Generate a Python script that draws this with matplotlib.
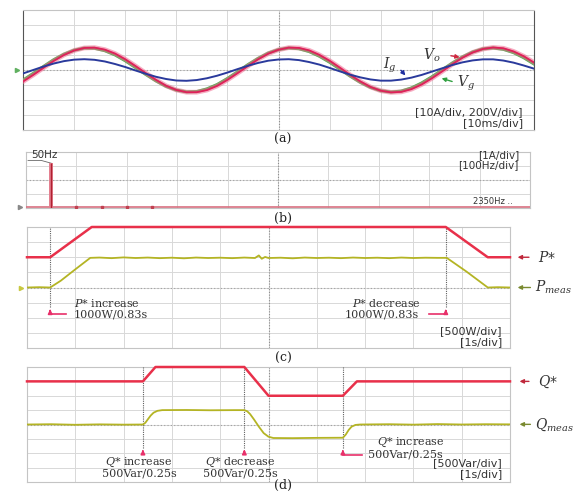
import numpy as np
import matplotlib
matplotlib.use("Agg")
import matplotlib.pyplot as plt

plt.rcParams["mathtext.fontset"] = "dejavuserif"

# ---- (a) grid voltage / output voltage / grid current, sampled every 0.2 div
t_wave = np.linspace(0, 10, 51)
vo = [-0.77, -0.33, 0.14, 0.60, 1.00, 1.30, 1.47, 1.49, 1.36, 1.10,
      0.72, 0.27, -0.20, -0.65, -1.05, -1.33, -1.48, -1.48, -1.34, -1.06,
      -0.66, -0.21, 0.26, 0.71, 1.09, 1.35, 1.49, 1.47, 1.31, 1.01,
      0.62, 0.16, -0.32, -0.76, -1.13, -1.38, -1.49, -1.46, -1.28, -0.97,
      -0.56, -0.10, 0.38, 0.82, 1.17, 1.40, 1.50, 1.45, 1.24, 0.92, 0.50]
vg = [-0.68, -0.23, 0.23, 0.68, 1.05, 1.32, 1.46, 1.45, 1.29, 1.01,
      0.62, 0.17, -0.29, -0.72, -1.09, -1.34, -1.46, -1.44, -1.26, -0.97,
      -0.57, -0.12, 0.35, 0.77, 1.13, 1.36, 1.47, 1.42, 1.23, 0.92,
      0.52, 0.06, -0.40, -0.82, -1.16, -1.38, -1.47, -1.41, -1.20, -0.87,
      -0.46, 0.00, 0.46, 0.87, 1.20, 1.41, 1.47, 1.38, 1.16, 0.82, 0.40]
ig = [-0.23, 0.00, 0.23, 0.43, 0.59, 0.69, 0.72, 0.68, 0.57, 0.40,
      0.20, -0.03, -0.25, -0.45, -0.60, -0.70, -0.72, -0.67, -0.55, -0.38,
      -0.17, 0.06, 0.28, 0.47, 0.62, 0.70, 0.72, 0.66, 0.53, 0.36,
      0.14, -0.09, -0.31, -0.49, -0.63, -0.71, -0.71, -0.64, -0.51, -0.33,
      -0.11, 0.11, 0.33, 0.51, 0.64, 0.71, 0.71, 0.63, 0.49, 0.30, 0.09]

# ---- (b) current spectrum (A), 100 Hz/div
harm_hz = [50, 100, 150, 200, 250]
harm_amp = [3.2, 0.08, 0.08, 0.08, 0.06]
spec_floor = 0.04

# ---- (c) active power step, div units (500 W/div, 1 s/div)
p_ref_t = [0, 0.48, 1.34, 8.67, 9.54, 10]
p_ref = [6, 6, 8, 8, 6, 6]
p_meas_t = [0, 0.25, 0.48, 0.7, 1.0, 1.31, 1.5, 1.75, 2.0, 2.25, 2.5, 2.75,
            3.0, 3.25, 3.5, 3.75, 4.0, 4.25, 4.5, 4.72, 4.8, 4.86, 4.93,
            5.0, 5.25, 5.5, 5.75, 6.0, 6.25, 6.5, 6.75, 7.0, 7.25, 7.5,
            7.75, 8.0, 8.25, 8.5, 8.69, 9.1, 9.54, 9.75, 10]
p_meas = [4.0, 4.02, 4.0, 4.45, 5.2, 5.96, 5.98, 5.94, 5.99, 5.95, 5.98, 5.94,
          5.97, 5.93, 5.98, 5.95, 5.97, 5.94, 5.98, 5.95, 6.12, 5.90, 6.02,
          5.95, 5.97, 5.93, 5.98, 5.95, 5.97, 5.94, 5.98, 5.95, 5.97, 5.94,
          5.98, 5.95, 5.97, 5.96, 5.96, 5.05, 4.0, 4.02, 4.0]
p_events = [p_ref_t[1], p_ref_t[3]]

# ---- (d) reactive power steps, div units (500 Var/div, 1 s/div)
q_ref_t = [0, 2.40, 2.66, 4.50, 5.00, 6.54, 6.83, 10]
q_ref = [7, 7, 8, 8, 6, 6, 7, 7]
q_meas_t = [0, 0.5, 1.0, 1.5, 2.0, 2.40, 2.45, 2.50, 2.56, 2.62, 2.70, 2.80,
            3.3, 3.8, 4.3, 4.50, 4.56, 4.62, 4.70, 4.80, 4.90, 5.00, 5.10,
            5.5, 6.0, 6.54, 6.60, 6.66, 6.72, 6.80, 6.90, 7.5, 8.0, 8.5,
            9.0, 9.5, 10]
q_meas = [4.0, 4.02, 3.98, 4.01, 3.99, 4.0, 4.12, 4.35, 4.62, 4.82, 4.95, 5.0,
          5.01, 4.99, 5.0, 5.0, 4.92, 4.72, 4.35, 3.85, 3.40, 3.15, 3.06,
          3.05, 3.07, 3.08, 3.30, 3.62, 3.85, 3.97, 4.0, 4.02, 3.99, 4.03,
          4.0, 4.02, 4.01]
q_events = [q_ref_t[1], q_ref_t[3], q_ref_t[5]]

RED = "#e8304a"
YEL = "#b4b424"
PINK = "#e8306a"
TXT = "#333333"
SERIF = "DejaVu Serif"
FS = 8

W, H = 573, 491
fig = plt.figure(figsize=(W / 100, H / 100), dpi=100)


def box(x0, y0, x1, y1):
    return [x0 / W, 1 - y1 / H, (x1 - x0) / W, (y1 - y0) / H]


def scope(ax, ylo, yhi):
    ax.set_xlim(0, 10)
    ax.set_ylim(ylo, yhi)
    ax.set_xticks(np.arange(0, 11))
    ax.set_yticks(np.arange(ylo, yhi + 1))
    ax.grid(True, color="#d8d8d8", lw=0.7)
    ax.tick_params(length=0, labelbottom=False, labelleft=False)
    for s in ax.spines.values():
        s.set_color("#c4c4c4")
        s.set_linewidth(0.8)
    ax.axvline(5, color="#8c8c8c", lw=0.8, ls=(0, (1, 1.5)))
    ax.axhline((ylo + yhi) / 2, color="#a0a0a0", lw=0.8, ls=(0, (1, 2)))


def arrow(ax, xy, xytext, color, lw=1.0):
    ax.annotate("", xy=xy, xytext=xytext, annotation_clip=False,
                arrowprops=dict(arrowstyle="-|>", color=color, lw=lw, mutation_scale=6))


ax_a = fig.add_axes(box(23, 10, 534, 130))
ax_b = fig.add_axes(box(26, 152, 530, 208))
ax_c = fig.add_axes(box(27, 227, 510, 348))
ax_d = fig.add_axes(box(27, 367, 510, 482))

# (a)
scope(ax_a, -4, 4)
for side in ("left", "right"):
    ax_a.spines[side].set_color("#555555")
    ax_a.spines[side].set_linestyle((0, (1, 1)))
ax_a.plot(t_wave, vg, color="#3cb84a", lw=2.2, zorder=3)
ax_a.plot(t_wave, vo, color="#f06a90", lw=3.4, alpha=0.55, zorder=4)
ax_a.plot(t_wave, vo, color="#e0205a", lw=1.3, zorder=5)
ax_a.plot(t_wave, ig, color="#2a3a9c", lw=1.4, zorder=6)
ax_a.text(7.83, 1.0, r"$V_o$", fontsize=10, color=TXT, va="center")
arrow(ax_a, (8.6, 0.82), (8.32, 0.98), "#d02840")
ax_a.text(7.05, 0.33, r"$I_g$", fontsize=10, color=TXT, va="center")
arrow(ax_a, (7.52, -0.5), (7.36, 0.12), "#2030a0")
ax_a.text(8.5, -0.9, r"$V_g$", fontsize=10, color=TXT, va="center")
arrow(ax_a, (8.14, -0.5), (8.45, -0.82), "#30a040")
ax_a.text(9.78, -2.83, "[10A/div, 200V/div]", fontsize=FS, color=TXT, ha="right", va="center")
ax_a.text(9.78, -3.57, "[10ms/div]", fontsize=FS, color=TXT, ha="right", va="center")
ax_a.plot([-0.12], [0], marker=">", ms=3, color="#60b060", clip_on=False)

# (b)
scope(ax_b, 0, 4)
harm_div = [f / 100 for f in harm_hz]
ax_b.plot([0, 10], [spec_floor, spec_floor], color="#d87080", lw=1.2, zorder=3)
ax_b.bar(harm_div[:1], harm_amp[:1], width=0.07, color="#e48090", zorder=4)
ax_b.vlines(harm_div[:1], 0, harm_amp[:1], color="#b02030", lw=1.0, zorder=5)
ax_b.plot(harm_div[1:], harm_amp[1:], "s", ms=1.6, color="#c04050", zorder=5)
ax_b.text(0.1, 3.75, "50Hz", fontsize=7.5, color=TXT, va="center")
ax_b.plot([0.04, 0.3, harm_div[0]], [3.4, 3.4, harm_amp[0]], color="#666666", lw=0.6)
ax_b.text(9.78, 3.8, "[1A/div]", fontsize=7.5, color=TXT, ha="right", va="center")
ax_b.text(9.78, 3.04, "[100Hz/div]", fontsize=7.5, color=TXT, ha="right", va="center")
ax_b.text(9.66, 0.45, "2350Hz ..", fontsize=6, color=TXT, ha="right", va="center")
ax_b.plot([-0.12], [spec_floor], marker=">", ms=3, color="#888888", clip_on=False)

# (c)
scope(ax_c, 0, 8)
ax_c.plot(p_ref_t, p_ref, color=RED, lw=1.8, clip_on=False, zorder=5)
ax_c.plot(p_meas_t, p_meas, color=YEL, lw=1.3, zorder=4)
for x in p_events:
    ax_c.plot([x, x], [2.7, 8], color="#606060", lw=0.8, ls=(0, (1, 1)), zorder=3)
    arrow(ax_c, (x, 2.75), (x, 2.2), PINK, lw=1.2)
ax_c.plot([p_events[0], p_events[0] + 0.32], [2.22, 2.22], color=PINK, lw=1.2)
ax_c.plot([p_events[1] - 0.34, p_events[1]], [2.22, 2.22], color=PINK, lw=1.2)
ax_c.text(0.97, 2.97, r"$P$* increase", fontsize=FS, family=SERIF, color=TXT, va="center")
ax_c.text(0.97, 2.22, "1000W/0.83s", fontsize=FS, family=SERIF, color=TXT, va="center")
ax_c.text(8.15, 2.97, r"$P$* decrease", fontsize=FS, family=SERIF, color=TXT,
          ha="right", va="center")
ax_c.text(8.12, 2.22, "1000W/0.83s", fontsize=FS, family=SERIF, color=TXT,
          ha="right", va="center")
ax_c.text(9.83, 1.12, "[500W/div]", fontsize=FS, color=TXT, ha="right", va="center")
ax_c.text(9.83, 0.4, "[1s/div]", fontsize=FS, color=TXT, ha="right", va="center")
arrow(ax_c, (10.1, p_ref[-1]), (10.45, p_ref[-1]), "#c0283c")
ax_c.text(10.58, p_ref[-1], r"$P$*", fontsize=10, color=TXT, va="center")
arrow(ax_c, (10.1, p_meas[-1]), (10.48, p_meas[-1]), "#7a8a30")
ax_c.text(10.52, p_meas[-1], r"$P_{meas}$", fontsize=10, color=TXT, va="center")
ax_c.plot([-0.12], [p_meas[0]], marker=">", ms=3, color="#c8c840", clip_on=False)

# (d)
scope(ax_d, 0, 8)
ax_d.plot(q_ref_t, q_ref, color=RED, lw=1.8, clip_on=False, zorder=5)
ax_d.plot(q_meas_t, q_meas, color=YEL, lw=1.3, zorder=4)
for x in q_events:
    ax_d.plot([x, x], [2.4, 8], color="#606060", lw=0.8, ls=(0, (1, 1)), zorder=3)
    arrow(ax_d, (x, 2.45), (x, 1.88), PINK, lw=1.2)
ax_d.plot([q_events[2], q_events[2] + 0.4], [1.9, 1.9], color=PINK, lw=1.2)
for x, word in zip(q_events[:2], ["increase", "decrease"]):
    ax_d.text(x - 0.08, 1.37, r"$Q$* " + word, fontsize=FS, family=SERIF,
              color=TXT, ha="center", va="center")
    ax_d.text(x - 0.08, 0.58, "500Var/0.25s", fontsize=FS, family=SERIF,
              color=TXT, ha="center", va="center")
ax_d.text(7.24, 2.72, r"$Q$* increase", fontsize=FS, family=SERIF, color=TXT, va="center")
ax_d.text(7.05, 1.93, "500Var/0.25s", fontsize=FS, family=SERIF, color=TXT, va="center")
ax_d.text(9.83, 1.3, "[500Var/div]", fontsize=FS, color=TXT, ha="right", va="center")
ax_d.text(9.83, 0.54, "[1s/div]", fontsize=FS, color=TXT, ha="right", va="center")
arrow(ax_d, (10.14, q_ref[-1]), (10.45, q_ref[-1]), "#c0283c")
ax_d.text(10.58, q_ref[-1], r"$Q$*", fontsize=10, color=TXT, va="center")
arrow(ax_d, (10.14, q_meas[-1]), (10.48, q_meas[-1]), "#7a8a30")
ax_d.text(10.52, q_meas[-1], r"$Q_{meas}$", fontsize=10, color=TXT, va="center")

# sub-figure captions
for lab, y in [("(a)", 139), ("(b)", 218), ("(c)", 358), ("(d)", 485)]:
    fig.text(283 / W, 1 - y / H, lab, fontsize=9, family=SERIF,
             ha="center", va="center", color="#222222")

fig.savefig("out.png", dpi=100)
